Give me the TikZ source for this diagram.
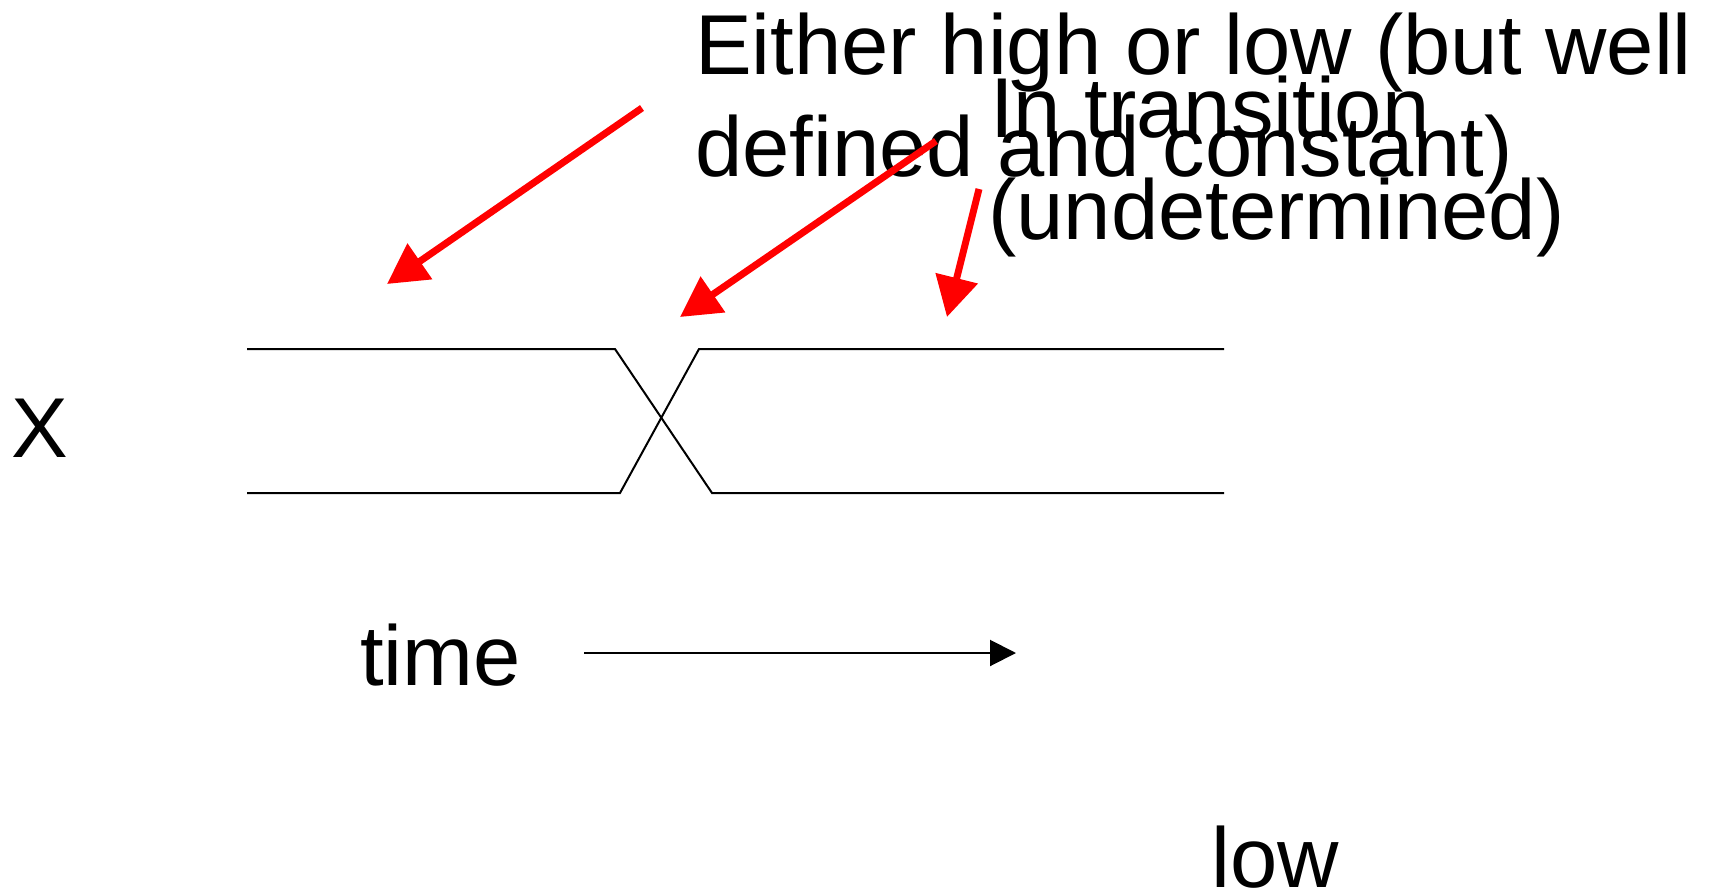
\documentclass[tikz,border=0pt]{standalone}
\usepackage{fontspec}
\setmainfont{Liberation Sans}
\usetikzlibrary{arrows.meta}
\begin{document}
\begin{tikzpicture}[x=1pt,y=-1pt,
  lbl/.style={inner sep=0pt,anchor=base west,font=\fontsize{85}{102}\selectfont},
  sig/.style={line width=2pt,black},
  redarr/.style={line width=7pt,red,-{Triangle[length=40pt,width=42pt]}},
  timearr/.style={line width=2pt,black,-{Triangle[length=26pt,width=26pt]}}]
\useasboundingbox (0,0) rectangle (1714,894);
% texts
\node[lbl] (either) at (695,74) {Either high or low (but well};
\node[lbl] (defined) at (695,176) {defined and constant)};
\node[lbl] (intr) at (990,137) {In transition};
\node[lbl] (undet) at (988,239) {(undetermined)};
\node[lbl] (xlab) at (11,457) {X};
\node[lbl] (time) at (360,685) {time};
\node[lbl] (low) at (1211,887) {low};
% signal
\coordinate (tl) at (247,349);
\coordinate (t1) at (615,349);
\coordinate (b2) at (712,493);
\coordinate (br) at (1224,493);
\coordinate (bl) at (247,493);
\coordinate (b1) at (620,493);
\coordinate (t2) at (699,349);
\coordinate (tr) at (1224,349);
\draw[sig] (tl) -- (t1) -- (b2) -- (br);
\draw[sig] (bl) -- (b1) -- (t2) -- (tr);
% time arrow
\coordinate (ts) at (584,653);
\coordinate (te) at (1016,653);
\draw[timearr] (ts) -- (te);
% red arrows
\coordinate (a1s) at (642,108);
\coordinate (a1e) at (387,284);
\coordinate (a2s) at (936,141);
\coordinate (a2e) at (680,317);
\coordinate (a3s) at (979,189);
\coordinate (a3e) at (947,317);
\draw[redarr] (a1s) -- (a1e);
\draw[redarr] (a2s) -- (a2e);
\draw[redarr] (a3s) -- (a3e);
\end{tikzpicture}
\end{document}
